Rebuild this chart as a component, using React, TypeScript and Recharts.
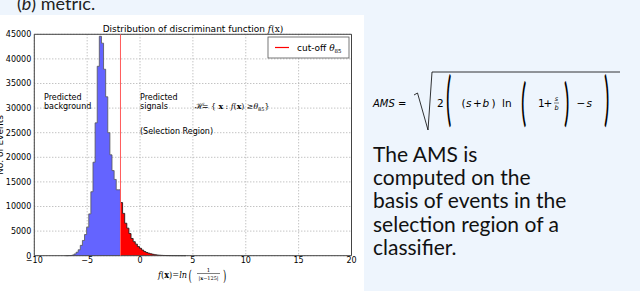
import React from 'react';
import { ComposedChart, Area, XAxis, YAxis, CartesianGrid, ReferenceLine, ReferenceArea } from 'recharts';

// Histogram bins (left edges) and counts
const blueEdges = [-6.85, -6.65, -6.45, -6.25, -6.05, -5.85, -5.65, -5.45, -5.25, -5.05, -4.85, -4.65, -4.45, -4.25, -4.05, -3.85, -3.65, -3.45, -3.25, -3.05, -2.85, -2.65, -2.45, -2.25, -2.05];
const blueCounts = [20, 40, 120, 350, 700, 1200, 2100, 3100, 4300, 5800, 8500, 13000, 19000, 27000, 38500, 44600, 43200, 37900, 32300, 25000, 20500, 17300, 15500, 13400, 13400];
const cutoff = -1.85;
const redEdges = [-1.85, -1.65, -1.45, -1.25, -1.05, -0.85, -0.65, -0.45, -0.25, -0.05, 0.15, 0.35, 0.55, 0.75, 0.95, 1.15, 1.35, 1.55, 1.75, 1.95, 2.15, 2.35, 2.55, 2.75, 2.95, 3.15, 3.35, 3.55, 3.75, 3.95, 4.15];
const redCounts = [10800, 8600, 6600, 5600, 4500, 3500, 2850, 2350, 1850, 1500, 1150, 850, 650, 500, 380, 280, 200, 140, 100, 70, 50, 35, 25, 18, 12, 9, 6, 4, 3, 2, 1];
const histStart = -7.05;
const histEnd = 4.35;

const xTicks = [-10, -5, 0, 5, 10, 15, 20];
const yTicks = [0, 5000, 10000, 15000, 20000, 25000, 30000, 35000, 40000, 45000];

const paragraph = ['The AMS is', 'computed on the', 'basis of events in the', 'selection region of a', 'classifier.'];

type Row = { x: number; blue: number | null; red: number | null };
const data: Row[] = [];
data.push({ x: histStart, blue: 0, red: null });
blueEdges.forEach((e, i) => data.push({ x: e, blue: blueCounts[i], red: null }));
data.push({ x: cutoff, blue: 0, red: redCounts[0] });
redEdges.slice(1).forEach((e, i) => data.push({ x: e, blue: null, red: redCounts[i + 1] }));
data.push({ x: histEnd, blue: null, red: 0 });

const fmt = (v: number) => (v < 0 ? '\u2212' + Math.abs(v) : String(v));

const sans = 'DejaVu Sans';
const serif = 'DejaVu Serif';
const mathF = 'DejaVu Sans';

export default function App() {
  return (
    <div style={{ position: 'absolute', left: 0, top: 0, width: 640, height: 291, background: '#eef5fd', overflow: 'hidden' }}>
      <div style={{ position: 'absolute', left: 0, top: 15, width: 364, height: 276, background: '#ffffff' }}>
        <ComposedChart width={364} height={276} data={data} margin={{ top: 19.3, right: 12.5, bottom: 15.3, left: 0 }}>
          <CartesianGrid stroke="#aaaaaa" strokeDasharray="1 2" />
          <XAxis
            dataKey="x"
            type="number"
            domain={[-10, 20]}
            ticks={xTicks}
            tickFormatter={fmt}
            allowDataOverflow
            height={20}
            axisLine={false}
            tickLine={false}
            tickSize={2}
            tickMargin={0}
            tick={{ fontSize: 8, fill: '#000', fontFamily: sans }}
          />
          <YAxis
            type="number"
            domain={[0, 45000]}
            ticks={yTicks}
            width={34.3}
            axisLine={false}
            tickLine={false}
            tickSize={2}
            tickMargin={1}
            tick={{ fontSize: 8, fill: '#000', fontFamily: sans }}
          />
          <Area type="stepAfter" dataKey="blue" fill="#6464ff" fillOpacity={1} stroke="#555555" strokeWidth={0.8} isAnimationActive={false} dot={false} activeDot={false} />
          <Area type="stepAfter" dataKey="red" fill="#ff0000" fillOpacity={1} stroke="#111111" strokeWidth={0.8} isAnimationActive={false} dot={false} activeDot={false} />
          <ReferenceLine x={cutoff} stroke="#ff5a5a" strokeWidth={1} />
          <ReferenceArea x1={-10} x2={20} y1={0} y2={45000} fill="none" stroke="#444444" strokeWidth={1} ifOverflow="visible" />
        </ComposedChart>
      </div>
      <svg width={640} height={291} style={{ position: 'absolute', left: 0, top: 0, pointerEvents: 'none' }}>
        {/* slide heading, cut at the top */}
        <text x={17} y={10} fontSize={18} fontFamily="Lato" fill="#222">(<tspan fontStyle="italic">b</tspan>) metric.</text>
        {/* title */}
        <text x={193} y={31.5} fontSize={9} fontFamily={sans} textAnchor="middle" fill="#000">
          Distribution of discriminant function <tspan fontFamily={serif} fontStyle="italic">f</tspan><tspan fontFamily={serif}>(x)</tspan>
        </text>
        {/* y label */}
        <text transform="translate(2.5,145) rotate(-90)" fontSize={9} fontFamily={sans} textAnchor="middle" fill="#000">No. of Events</text>
        {/* legend */}
        <rect x={268} y={37} width={81} height={21} fill="#fff" stroke="#555" strokeWidth={0.8} />
        <line x1={275} x2={289} y1={47.5} y2={47.5} stroke="#ff0000" strokeWidth={1.2} />
        <text x={297} y={50.5} fontSize={9} fontFamily={sans} fill="#000">
          cut-off <tspan fontFamily={serif} fontStyle="italic">θ</tspan><tspan fontSize={5.5} dy={2}>85</tspan>
        </text>
        {/* annotations */}
        <text x={44} y={100} fontSize={8} fontFamily={sans} fill="#000">Predicted</text>
        <text x={44} y={109} fontSize={8} fontFamily={sans} fill="#000">background</text>
        <text x={140} y={100} fontSize={8} fontFamily={sans} fill="#000">Predicted</text>
        <text x={140} y={109} fontSize={8} fontFamily={sans} fill="#000">signals</text>
        <text x={140} y={133.5} fontSize={8} fontFamily={sans} fill="#000">(Selection Region)</text>
        <text x={194.5} y={109} fontSize={8.5} fontFamily={serif} fill="#000">ℋ</text>
        <text x={202} y={109} fontSize={7.8} fontFamily={serif} fill="#000">
          = {'{'} <tspan fontWeight="bold">x</tspan> : <tspan fontStyle="italic">f</tspan>(<tspan fontWeight="bold">x</tspan>) ≥<tspan fontStyle="italic">θ</tspan><tspan fontSize={5} dy={2}>85</tspan><tspan dy={-2}>{'}'}</tspan>
        </text>
        {/* x label */}
        <text x={158} y={278} fontSize={8.5} fontFamily={serif} fill="#000" textLength={29} lengthAdjust="spacingAndGlyphs">
          <tspan fontStyle="italic">f</tspan>(<tspan fontWeight="bold">x</tspan>)=<tspan fontStyle="italic">ln</tspan>
        </text>
        <text transform="translate(188.5,280.5) scale(1,1.8)" fontSize={8.5} fontFamily={serif} fill="#000">(</text>
        <text x={208.5} y={271.5} fontSize={5.5} fontFamily={serif} textAnchor="middle" fill="#000">1</text>
        <line x1={197} x2={220} y1={273.5} y2={273.5} stroke="#000" strokeWidth={0.5} />
        <text x={208.5} y={279.5} fontSize={5} fontFamily={serif} textAnchor="middle" fill="#000">|<tspan fontWeight="bold">x</tspan>−125|</text>
        <text transform="translate(223,280.5) scale(1,1.8)" fontSize={8.5} fontFamily={serif} fill="#000">)</text>
        {/* right panel: AMS formula */}
        <text x={373} y={107} fontSize={10} fontFamily={mathF} fontStyle="italic" fill="#000">AMS</text>
        <text x={398} y={107} fontSize={10} fontFamily={mathF} fill="#000">=</text>
        <polyline points="414,95 417.5,93 428,130 432,72 620,72" fill="none" stroke="#000" strokeWidth={0.8} />
        <text x={437} y={107} fontSize={10.5} fontFamily={mathF} fill="#000">2</text>
        <text transform="translate(446,118.5) scale(1,2.9)" fontSize={20} fontFamily="Lato" fill="#000">(</text>
        <text x={461.5} y={107} fontSize={10.5} fontFamily={mathF} fill="#000">(</text>
        <text x={466} y={107} fontSize={10.5} fontFamily={mathF} fontStyle="italic" fill="#000">s</text>
        <text x={473} y={107} fontSize={10.5} fontFamily={mathF} fill="#000">+</text>
        <text x={482.5} y={107} fontSize={10.5} fontFamily={mathF} fontStyle="italic" fill="#000">b</text>
        <text x={491.5} y={107} fontSize={10.5} fontFamily={mathF} fill="#000">)</text>
        <text x={502} y={107} fontSize={10.5} fontFamily={mathF} fill="#000">ln</text>
        <text transform="translate(521,120) scale(1,2.5)" fontSize={20} fontFamily="Lato" fill="#000">(</text>
        <text x={538} y={107} fontSize={10.5} fontFamily={mathF} fill="#000">1</text>
        <text x={543.5} y={107} fontSize={10.5} fontFamily={mathF} fill="#000">+</text>
        <text x={556.5} y={101} fontSize={6.5} fontFamily={mathF} fontStyle="italic" textAnchor="middle" fill="#000">s</text>
        <line x1={554} x2={559} y1={103} y2={103} stroke="#000" strokeWidth={0.5} />
        <text x={556.5} y={109.5} fontSize={6.5} fontFamily={mathF} fontStyle="italic" textAnchor="middle" fill="#000">b</text>
        <text transform="translate(564,120) scale(1,2.5)" fontSize={20} fontFamily="Lato" fill="#000">)</text>
        <text x={576.5} y={107} fontSize={10.5} fontFamily={mathF} fill="#000">−</text>
        <text x={586.5} y={107} fontSize={10.5} fontFamily={mathF} fontStyle="italic" fill="#000">s</text>
        <text transform="translate(604,118.5) scale(1,2.9)" fontSize={20} fontFamily="Lato" fill="#000">)</text>
        {/* paragraph */}
        {paragraph.map((line, i) => (
          <text key={line} x={373} y={161.7 + i * 23.3} fontSize={21} fontFamily="Lato" fill="#111">{line}</text>
        ))}
      </svg>
    </div>
  );
}
